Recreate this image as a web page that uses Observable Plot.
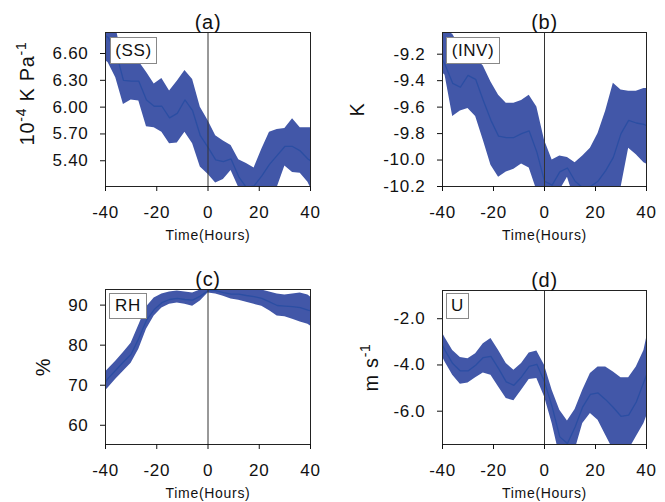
<!DOCTYPE html>
<html>
<head>
<meta charset="utf-8">
<script src="https://cdn.jsdelivr.net/npm/d3@7"></script>
<script src="https://cdn.jsdelivr.net/npm/@observablehq/plot@0.6"></script>
<style>
  body { margin: 0; background: #fff; }
  #wrap { position: relative; width: 665px; height: 502px; font-family: "Liberation Sans", Arial, sans-serif; }
  .panel { position: absolute; }
  .tag { position: absolute; background: #fff; border: 1px solid #888; box-sizing: border-box; letter-spacing: 0.6px;
         font-size: 17px; color: #111; display: flex; align-items: center; justify-content: center; }
</style>
</head>
<body>
<div id="wrap"></div>
<script>
const times = [-40,-39,-36,-33,-30,-27,-24,-21,-18,-15,-12,-9,-6,-3,0,3,6,9,12,15,18,21,24,27,30,33,36,39,40];

const ssMean = [6.80,6.78,6.63,6.30,6.29,6.29,6.08,6.01,6.01,5.88,5.93,6.08,5.96,5.68,5.55,5.41,5.39,5.42,5.22,5.10,5.12,5.23,5.36,5.46,5.56,5.56,5.51,5.42,5.40];
const ssHi   = [6.95,6.95,6.90,6.50,6.52,6.51,6.39,6.26,6.32,6.18,6.29,6.41,6.31,6.00,5.85,5.68,5.62,5.57,5.41,5.37,5.32,5.53,5.72,5.75,5.76,5.87,5.77,5.77,5.77];
const ssLo   = [6.52,6.50,6.33,6.03,6.08,6.07,5.78,5.77,5.72,5.59,5.60,5.72,5.59,5.33,5.25,5.15,5.19,5.29,5.10,5.03,4.99,4.95,4.99,5.10,5.34,5.27,5.26,5.16,5.10];

const invMean = [-9.24,-9.28,-9.42,-9.45,-9.36,-9.39,-9.55,-9.70,-9.82,-9.83,-9.83,-9.80,-9.78,-9.94,-10.16,-10.19,-10.09,-10.06,-10.16,-10.21,-10.20,-10.16,-10.08,-9.98,-9.80,-9.70,-9.72,-9.73,-9.74];
const invHi   = [-9.02,-9.02,-9.05,-9.15,-9.20,-9.23,-9.29,-9.41,-9.51,-9.57,-9.57,-9.55,-9.51,-9.60,-9.85,-10.00,-9.97,-9.98,-10.02,-9.97,-9.91,-9.80,-9.63,-9.42,-9.47,-9.48,-9.48,-9.46,-9.46];
const invLo   = [-9.34,-9.36,-9.67,-9.63,-9.61,-9.67,-9.85,-10.04,-10.13,-10.09,-10.07,-10.03,-10.06,-10.23,-10.36,-10.41,-10.23,-10.13,-10.31,-10.41,-10.46,-10.43,-10.41,-10.36,-10.21,-9.91,-9.96,-10.02,-10.03];

const rhMean = [70.8,71.7,73.75,75.8,77.75,81.7,86.25,88.9,90.6,91.4,91.7,91.4,91.25,92.25,93.6,93.6,93.1,92.75,92.75,92.4,92.1,91.7,90.8,89.9,89.75,89.6,89.4,88.75,88.6];
const rhHi   = [73.3,74.0,76.0,78.2,80.5,85.0,89.5,91.8,92.8,93.3,93.5,93.3,93.0,93.8,95.0,95.0,94.8,94.5,94.5,94.3,94.0,93.8,93.3,92.8,92.5,92.8,93.0,92.5,92.0];
const rhLo   = [68.6,69.3,71.5,73.5,75.5,79.0,84.0,87.3,89.3,90.2,90.5,90.2,89.7,91.0,93.0,92.8,92.2,91.5,91.2,90.7,90.2,89.7,88.6,87.3,87.1,86.5,85.8,85.2,84.8];

const uMean = [-3.15,-3.37,-3.94,-4.26,-4.26,-4.01,-3.68,-3.63,-4.16,-4.73,-4.88,-4.52,-4.06,-3.97,-4.73,-5.81,-7.11,-7.40,-6.68,-5.81,-5.27,-5.21,-5.50,-5.84,-6.22,-6.17,-5.60,-4.73,-4.45];
const uHi   = [-2.62,-2.82,-3.37,-3.68,-3.73,-3.51,-3.08,-2.86,-3.37,-3.94,-4.23,-3.94,-3.48,-3.40,-4.01,-5.09,-5.96,-6.42,-5.93,-5.09,-4.37,-4.09,-4.09,-4.30,-4.55,-4.55,-4.09,-3.37,-2.86];
const uLo   = [-3.65,-3.87,-4.45,-4.83,-4.78,-4.55,-4.35,-4.45,-4.95,-5.45,-5.55,-5.09,-4.63,-4.59,-5.38,-6.53,-7.97,-8.40,-7.68,-6.53,-6.10,-6.39,-7.04,-7.68,-7.97,-7.68,-7.11,-6.53,-6.24];

const xTicks = [-40,-20,0,20,40];
const panelTitles = ["(a)","(b)","(c)","(d)"];
// y-axis labels as [text, isSuperscript] pieces
const yLabelParts = [
  [["10",0],["-4",1],[" K Pa",0],["-1",1]],
  [["K",0]],
  [["%",0]],
  [["m s",0],["-1",1]]
];
const tagLabels = ["(SS)","(INV)","RH","U"];
const xLabel = "Time(Hours)";

const ssTicks = [5.40,5.70,6.00,6.30,6.60];
const invTicks = [-10.2,-10.0,-9.8,-9.6,-9.4,-9.2];
const rhTicks = [60,70,80,90];
const uTicks = [-6.0,-4.0,-2.0];

const rows = (m, lo, hi) => times.map((t, i) => ({t, mean: m[i], lo: lo[i], hi: hi[i]}));

const panels = [
  {data: rows(ssMean, ssLo, ssHi), domain: [5.112, 6.835], ticks: ssTicks, fmt: d => d.toFixed(2),
   left: 0, top: 0, width: 330, height: 250, ml: 105, mr: 20, mt: 32, mb: 64, ydx: -78, ydy: -16,
   tag: {left: 110, top: 37, width: 47, height: 27}},
  {data: rows(invMean, invLo, invHi), domain: [-10.2, -9.036], ticks: invTicks, fmt: d => d.toFixed(1),
   left: 330, top: 0, width: 335, height: 250, ml: 112, mr: 19, mt: 32, mb: 64, ydx: -85, ydy: 0,
   tag: {left: 446, top: 37, width: 54, height: 27}},
  {data: rows(rhMean, rhLo, rhHi), domain: [55.2, 93.9], ticks: rhTicks, fmt: d => d.toFixed(0),
   left: 0, top: 250, width: 330, height: 252, ml: 105, mr: 20, mt: 39, mb: 58, ydx: -62, ydy: 0,
   tag: {left: 109, top: 293, width: 38, height: 26}},
  {data: rows(uMean, uLo, uHi), domain: [-7.44, -0.78], ticks: uTicks, fmt: d => d.toFixed(1),
   left: 330, top: 250, width: 335, height: 252, ml: 112, mr: 19, mt: 40, mb: 58, ydx: -71, ydy: 0,
   tag: {left: 446, top: 293, width: 23, height: 26}}
];

const wrap = document.getElementById("wrap");
panels.forEach((p, k) => {
  const labelKey = "YLABEL" + k;
  const chart = Plot.plot({
    width: p.width, height: p.height,
    marginLeft: p.ml, marginRight: p.mr, marginTop: p.mt, marginBottom: p.mb,
    style: {fontFamily: "'Liberation Sans', Arial, sans-serif", fontSize: "17px", color: "#111", background: "transparent", overflow: "visible", letterSpacing: "0.7px"},
    x: {domain: [-40, 40]},
    y: {domain: p.domain},
    marks: [
      Plot.areaY(p.data, {x: "t", y1: "lo", y2: "hi", fill: "#4257a8", clip: true}),
      Plot.lineY(p.data, {x: "t", y: "mean", stroke: "#2b4ea3", strokeWidth: 1.3, clip: true}),
      Plot.ruleX([0], {stroke: "#333", strokeWidth: 1}),
      Plot.frame({stroke: "#222", strokeWidth: 1}),
      Plot.axisX({ticks: xTicks, tickFormat: d => `${d}`, tickSize: 5, tickPadding: 14, label: null, fontSize: 17}),
      Plot.axisY({ticks: p.ticks, tickFormat: p.fmt, tickSize: 5, tickPadding: 12, label: null, fontSize: 17}),
      Plot.text([panelTitles[k]], {frameAnchor: "top", lineAnchor: "bottom", dy: -4, fontSize: 20}),
      Plot.text([xLabel], {frameAnchor: "bottom", lineAnchor: "bottom", dy: 53, fontSize: 14}),
      Plot.text([labelKey], {frameAnchor: "left", textAnchor: "middle", lineAnchor: "middle", rotate: -90, dx: p.ydx, dy: p.ydy, fontSize: 20})
    ]
  });
  // rebuild the y label with real superscripts
  d3.select(chart).selectAll("text")
    .filter(function() { return this.textContent === labelKey; })
    .each(function() {
      const t = d3.select(this);
      t.text(null);
      let raised = false;
      yLabelParts[k].forEach(([s, sup]) => {
        const ts = t.append("tspan").text(s);
        if (sup && !raised) { ts.attr("dy", -8).attr("font-size", 14); raised = true; }
        else if (sup) { ts.attr("font-size", 14); }
        else if (raised) { ts.attr("dy", 8); raised = false; }
      });
    });
  const div = document.createElement("div");
  div.className = "panel";
  div.style.left = p.left + "px";
  div.style.top = p.top + "px";
  div.appendChild(chart);
  wrap.appendChild(div);

  const tag = document.createElement("div");
  tag.className = "tag";
  tag.style.left = p.tag.left + "px";
  tag.style.top = p.tag.top + "px";
  tag.style.width = p.tag.width + "px";
  tag.style.height = p.tag.height + "px";
  tag.textContent = tagLabels[k];
  wrap.appendChild(tag);
});
</script>
</body>
</html>
